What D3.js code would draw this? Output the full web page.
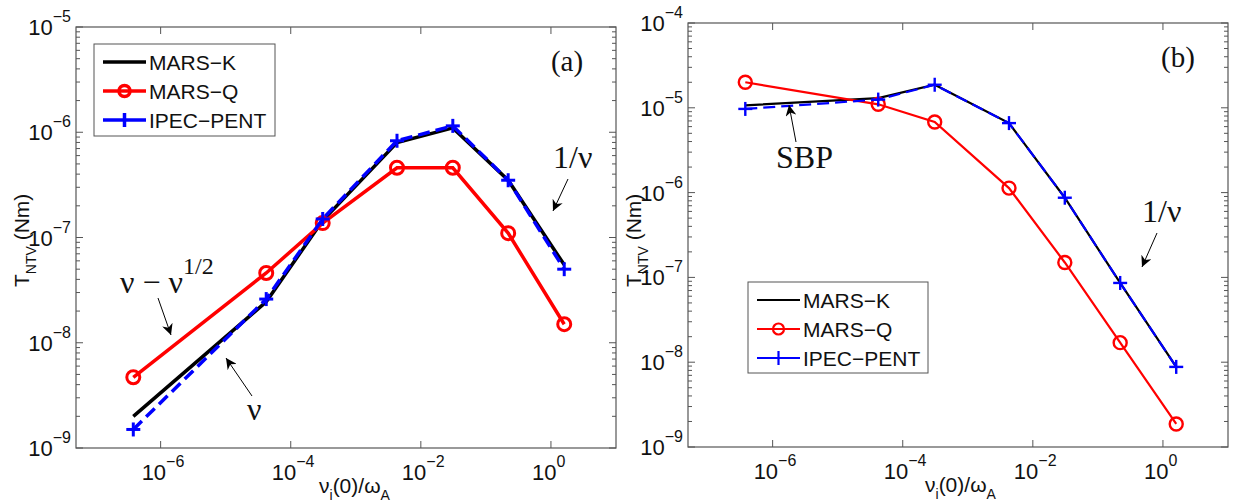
<!DOCTYPE html>
<html>
<head>
<meta charset="utf-8">
<script src="https://cdn.jsdelivr.net/npm/d3@7"></script>
<style>
  body { margin: 0; background: #fff; }
  svg { display: block; }
</style>
</head>
<body>
<svg id="chart" width="1237" height="502"></svg>
<script>
// ---- data ----
const nuValues = [3.8e-7, 4.2e-5, 3.1e-4, 4.3e-3, 3.1e-2, 2.2e-1, 1.6];
const seriesNames = ["MARS-K", "MARS-Q", "IPEC-PENT"];

// panel (a)
const marsK_a = [2.0e-9, 2.45e-8, 1.45e-7, 8.0e-7, 1.1e-6, 3.5e-7, 5.5e-8];
const marsQ_a = [4.7e-9, 4.6e-8, 1.37e-7, 4.6e-7, 4.6e-7, 1.1e-7, 1.5e-8];
const ipec_a  = [1.5e-9, 2.6e-8, 1.5e-7, 8.3e-7, 1.15e-6, 3.5e-7, 5.0e-8];

// panel (b)
const marsK_b = [1.07e-5, 1.3e-5, 1.87e-5, 6.6e-6, 8.7e-7, 8.6e-8, 8.8e-9];
const marsQ_b = [2.0e-5, 1.1e-5, 6.8e-6, 1.13e-6, 1.5e-7, 1.7e-8, 1.87e-9];
const ipec_b  = [9.7e-6, 1.25e-5, 1.87e-5, 6.6e-6, 8.7e-7, 8.6e-8, 8.8e-9];

const xTickExps = [-6, -4, -2, 0];
const yTickExps_a = [-9, -8, -7, -6, -5];
const yTickExps_b = [-9, -8, -7, -6, -5, -4];
const xDomain = [5e-8, 10];

const svg = d3.select("#chart");
const sans = "'Liberation Sans', Arial, Helvetica, sans-serif";
const serif = "'Liberation Serif', 'Times New Roman', serif";
const axisColor = "#555";

function drawPanel(cfg) {
  const g = svg.append("g");
  const x = d3.scaleLog().domain(xDomain).range([cfg.left, cfg.right]);
  const y = d3.scaleLog().domain(cfg.yDomain).range([cfg.bottom, cfg.top]);

  // frame
  g.append("rect").attr("x", cfg.left).attr("y", cfg.top)
    .attr("width", cfg.right - cfg.left).attr("height", cfg.bottom - cfg.top)
    .attr("fill", "none").attr("stroke", axisColor).attr("stroke-width", 1.2);

  // y ticks (major + minor), both sides, inward
  const yMin = Math.log10(cfg.yDomain[0]), yMax = Math.log10(cfg.yDomain[1]);
  for (let e = yMin; e <= yMax; e++) {
    for (let m = 1; m <= 9; m++) {
      const v = m * Math.pow(10, e);
      if (v > cfg.yDomain[1] * 1.0001) break;
      const len = m === 1 ? 7 : 4;
      const yy = y(v);
      g.append("line").attr("x1", cfg.left).attr("x2", cfg.left + len)
        .attr("y1", yy).attr("y2", yy).attr("stroke", axisColor).attr("stroke-width", 1);
      g.append("line").attr("x1", cfg.right).attr("x2", cfg.right - len)
        .attr("y1", yy).attr("y2", yy).attr("stroke", axisColor).attr("stroke-width", 1);
    }
  }
  // y tick labels
  cfg.yTicks.forEach(e => {
    const t = g.append("text").attr("x", cfg.left - 5).attr("y", y(Math.pow(10, e)) + 8)
      .attr("text-anchor", "end").attr("font-family", sans).attr("font-size", 22).attr("fill", "#111");
    t.append("tspan").text("10");
    t.append("tspan").attr("dy", -13).attr("font-size", 16).text("\u2212" + Math.abs(e));
  });

  // x ticks major only, both sides
  xTickExps.forEach(e => {
    const xx = x(Math.pow(10, e));
    g.append("line").attr("x1", xx).attr("x2", xx).attr("y1", cfg.bottom).attr("y2", cfg.bottom - 7)
      .attr("stroke", axisColor);
    g.append("line").attr("x1", xx).attr("x2", xx).attr("y1", cfg.top).attr("y2", cfg.top + 7)
      .attr("stroke", axisColor);
    const t = g.append("text").attr("x", xx - 19).attr("y", cfg.bottom + 32)
      .attr("font-family", sans).attr("font-size", 22).attr("fill", "#111");
    t.append("tspan").text("10");
    t.append("tspan").attr("dy", -13).attr("font-size", 16).text(e === 0 ? "0" : "\u2212" + Math.abs(e));
  });

  // axis labels
  const xl = g.append("text").attr("x", cfg.xLabelX).attr("y", cfg.bottom + 45)
    .attr("font-family", sans).attr("font-size", 21).attr("fill", "#111");
  xl.append("tspan").text("\u03bd");
  xl.append("tspan").attr("dy", 7).attr("font-size", 14).text("i");
  xl.append("tspan").attr("dy", -7).text("(0)/\u03c9");
  xl.append("tspan").attr("dy", 7).attr("font-size", 14).text("A");

  const yl = g.append("text").attr("transform", `translate(${cfg.yLabelX},${cfg.yLabelY}) rotate(-90)`)
    .attr("font-family", sans).attr("font-size", 21).attr("fill", "#111");
  yl.append("tspan").text("T");
  yl.append("tspan").attr("dy", 7).attr("font-size", 14).text("NTV");
  yl.append("tspan").attr("dy", -7).text(" (Nm)");

  const line = d3.line().x((d, i) => x(nuValues[i])).y(d => y(d));
  const lw = cfg.lineWidth;

  // MARS-K black solid
  g.append("path").datum(cfg.marsK).attr("d", line).attr("fill", "none")
    .attr("stroke", "#000").attr("stroke-width", lw);
  // MARS-Q red
  g.append("path").datum(cfg.marsQ).attr("d", line).attr("fill", "none")
    .attr("stroke", "#ff0000").attr("stroke-width", lw);
  g.selectAll(null).data(cfg.marsQ).enter().append("circle")
    .attr("cx", (d, i) => x(nuValues[i])).attr("cy", d => y(d)).attr("r", 6.5)
    .attr("fill", "none").attr("stroke", "#ff0000").attr("stroke-width", cfg.markerWidth);
  // IPEC blue dashed
  g.append("path").datum(cfg.ipec).attr("d", line).attr("fill", "none")
    .attr("stroke", "#0000ff").attr("stroke-width", lw).attr("stroke-dasharray", "12,6");
  cfg.ipec.forEach((d, i) => {
    const cx = x(nuValues[i]), cy = y(d), s = 7;
    g.append("line").attr("x1", cx - s).attr("x2", cx + s).attr("y1", cy).attr("y2", cy)
      .attr("stroke", "#0000ff").attr("stroke-width", cfg.markerWidth);
    g.append("line").attr("x1", cx).attr("x2", cx).attr("y1", cy - s).attr("y2", cy + s)
      .attr("stroke", "#0000ff").attr("stroke-width", cfg.markerWidth);
  });

  // legend
  const L = cfg.legend;
  g.append("rect").attr("x", L.x).attr("y", L.y).attr("width", L.w).attr("height", L.h)
    .attr("fill", "#fff").attr("stroke", axisColor).attr("stroke-width", 1);
  const colors = ["#000", "#ff0000", "#0000ff"];
  seriesNames.forEach((name, k) => {
    const yy = L.y + 18 + k * 29;
    const x1 = L.x + 9, x2 = L.x + 52;
    g.append("line").attr("x1", x1).attr("x2", x2).attr("y1", yy).attr("y2", yy)
      .attr("stroke", colors[k]).attr("stroke-width", L.lw);
    const mx = (x1 + x2) / 2;
    if (k === 1) {
      g.append("circle").attr("cx", mx).attr("cy", yy).attr("r", 5.5).attr("fill", "none")
        .attr("stroke", colors[k]).attr("stroke-width", L.lw);
    } else if (k === 2) {
      g.append("line").attr("x1", mx).attr("x2", mx).attr("y1", yy - 7).attr("y2", yy + 7)
        .attr("stroke", colors[k]).attr("stroke-width", L.lw);
    }
    g.append("text").attr("x", L.x + 55).attr("y", yy + 8).attr("font-family", sans)
      .attr("font-size", 21).attr("fill", "#111").text(name.replace("-", "\u2212"));
  });

  // panel tag
  g.append("text").attr("x", cfg.tag.x).attr("y", cfg.tag.y).attr("font-family", serif)
    .attr("font-size", 29).attr("fill", "#111").attr("text-anchor", "middle").text(cfg.tag.text);

  return g;
}

// arrow marker
const defs = svg.append("defs");
defs.append("marker").attr("id", "arr").attr("viewBox", "0 0 10 10").attr("refX", 10).attr("refY", 5)
  .attr("markerWidth", 11).attr("markerHeight", 11).attr("markerUnits", "userSpaceOnUse")
  .attr("orient", "auto")
  .append("path").attr("d", "M0,0 L10,5 L0,10 L3,5 Z").attr("fill", "#000");

function arrow(x1, y1, x2, y2) {
  svg.append("line").attr("x1", x1).attr("y1", y1).attr("x2", x2).attr("y2", y2)
    .attr("stroke", "#000").attr("stroke-width", 1).attr("marker-end", "url(#arr)");
}
function note(x, y, parts) {
  const t = svg.append("text").attr("x", x).attr("y", y).attr("font-family", serif)
    .attr("font-size", 32).attr("fill", "#111");
  parts.forEach(p => {
    const s = t.append("tspan").text(p.t);
    if (p.dy) s.attr("dy", p.dy);
    if (p.fs) s.attr("font-size", p.fs);
  });
}

drawPanel({
  left: 76, right: 616, top: 27, bottom: 448,
  yDomain: [1e-9, 1e-5], yTicks: yTickExps_a,
  marsK: marsK_a, marsQ: marsQ_a, ipec: ipec_a,
  lineWidth: 3.5, markerWidth: 3,
  legend: { x: 94, y: 44, w: 181, h: 92, lw: 3.5 },
  tag: { x: 567, y: 71, text: "(a)" },
  xLabelX: 319, yLabelX: 29, yLabelY: 287
});

drawPanel({
  left: 688, right: 1228, top: 23, bottom: 447,
  yDomain: [1e-9, 1e-4], yTicks: yTickExps_b,
  marsK: marsK_b, marsQ: marsQ_b, ipec: ipec_b,
  lineWidth: 2.2, markerWidth: 2.4,
  legend: { x: 748, y: 282, w: 180, h: 91, lw: 2.2 },
  tag: { x: 1178, y: 67, text: "(b)" },
  xLabelX: 925, yLabelX: 641, yLabelY: 287
});

// annotations panel (a)
note(553, 168, [{ t: "1/\u03bd" }]);
arrow(568, 179, 553, 211);
note(120, 293, [{ t: "\u03bd \u2212 \u03bd" }, { t: "1/2", dy: -19, fs: 24 }]);
arrow(158, 298, 171, 335);
note(247, 420, [{ t: "\u03bd" }]);
arrow(252, 396, 226, 358);

// annotations panel (b)
note(1142, 222, [{ t: "1/\u03bd" }]);
arrow(1157, 233, 1142, 267);
note(776, 168, [{ t: "SBP" }]);
arrow(796, 142, 789, 105);
</script>
</body>
</html>
